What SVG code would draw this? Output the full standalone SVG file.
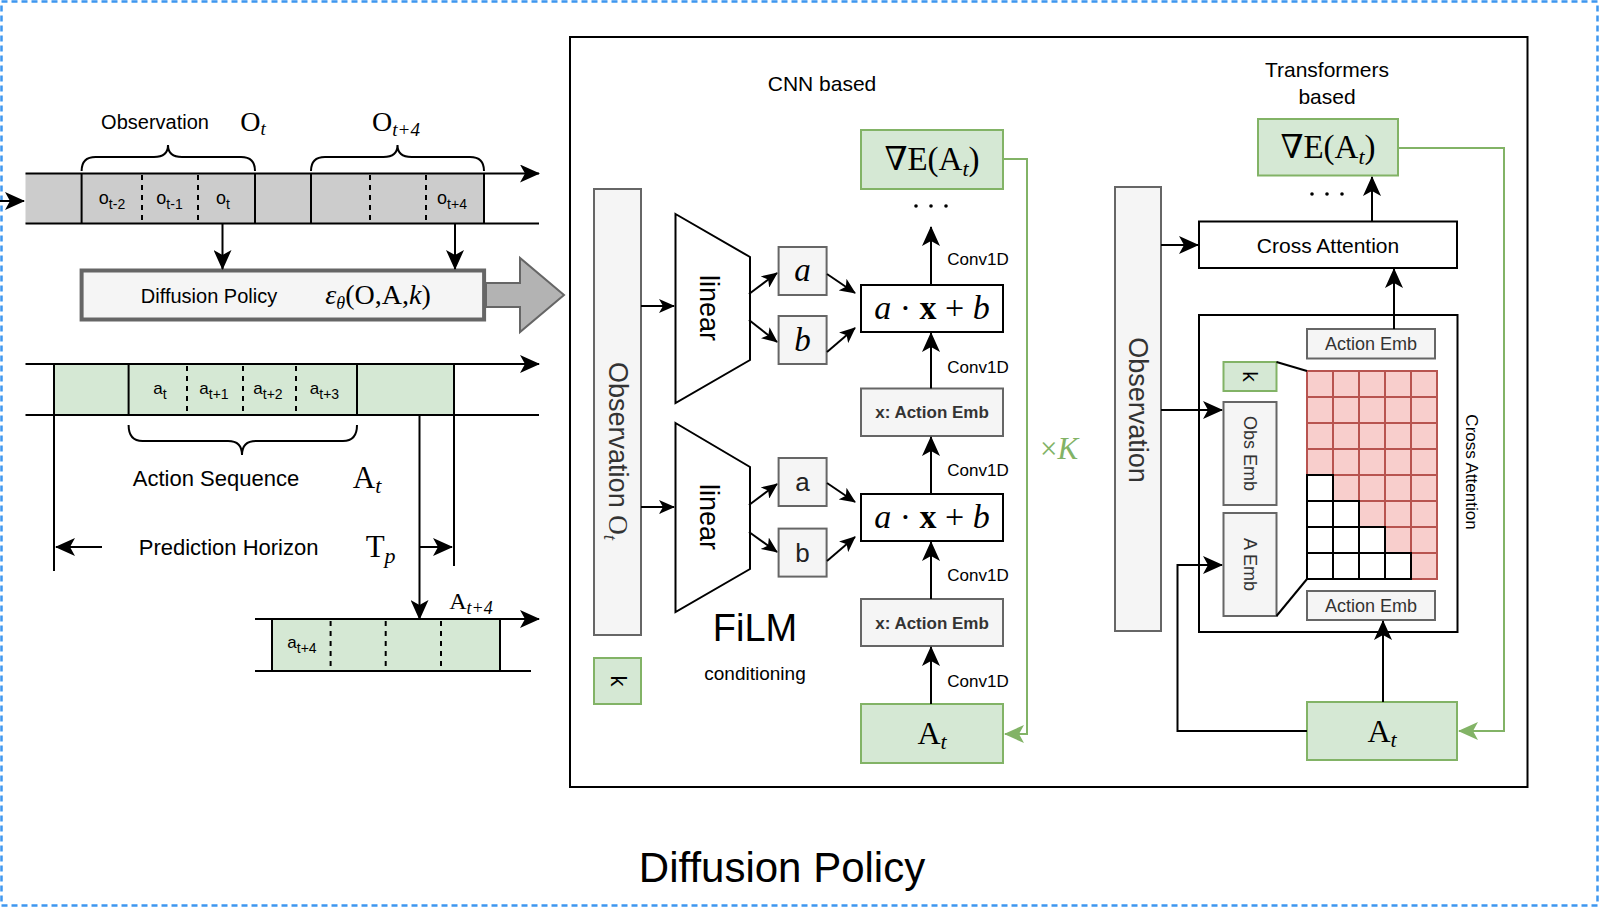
<svg xmlns="http://www.w3.org/2000/svg" width="1600" height="908" viewBox="0 0 1600 908">
<defs>
<style>
.s{font-family:"Liberation Sans",Arial,sans-serif;fill:#000}
.m{font-family:"Liberation Serif","DejaVu Serif",serif;fill:#000}
.ln{stroke:#000;stroke-width:2;fill:none}
.dash{stroke:#000;stroke-width:2;stroke-dasharray:5 5;fill:none}
.gb{fill:#F5F5F5;stroke:#666;stroke-width:2}
.gr{fill:#D5E8D4;stroke:#82B366;stroke-width:2}
.wb{fill:#fff;stroke:#000;stroke-width:2}
.pk{fill:#F8CECC;stroke:#B85450;stroke-width:2}
.wc{fill:#fff;stroke:#000;stroke-width:2}
.gl{stroke:#82B366;stroke-width:2;fill:none}
</style>
<marker id="ah" viewBox="0 0 16 14" markerWidth="16" markerHeight="14" refX="15" refY="7" orient="auto" markerUnits="userSpaceOnUse"><path d="M0,0 L16,7 L0,14 L4,7 Z" fill="#000"/></marker>
<marker id="ahL" viewBox="0 0 20 18" markerWidth="20" markerHeight="18" refX="19" refY="9" orient="auto" markerUnits="userSpaceOnUse"><path d="M0,0 L20,9 L0,18 L5,9 Z" fill="#000"/></marker>
<marker id="ahG" viewBox="0 0 20 18" markerWidth="20" markerHeight="18" refX="19" refY="9" orient="auto" markerUnits="userSpaceOnUse"><path d="M0,0 L20,9 L0,18 L5,9 Z" fill="#82B366"/></marker>
</defs>
<rect x="0" y="0" width="1600" height="908" fill="#fff"/>
<rect x="1.5" y="1.5" width="1596" height="904" fill="none" stroke="#3E97F0" stroke-width="2.5" stroke-dasharray="6 4"/>

<!-- Left: observation timeline -->
<g id="obs-timeline">
<rect x="25.5" y="173.5" width="458.5" height="50" fill="#CCCCCC"/>
<line x1="25.5" y1="173.5" x2="539" y2="173.5" class="ln" marker-end="url(#ahL)"/>
<line x1="25.5" y1="223.5" x2="539" y2="223.5" class="ln"/>
<line x1="81.6" y1="173.5" x2="81.6" y2="223.5" class="ln"/>
<line x1="255" y1="173.5" x2="255" y2="223.5" class="ln"/>
<line x1="311" y1="173.5" x2="311" y2="223.5" class="ln"/>
<line x1="484" y1="173.5" x2="484" y2="223.5" class="ln"/>
<line x1="142" y1="175" x2="142" y2="222" class="dash"/>
<line x1="198" y1="175" x2="198" y2="222" class="dash"/>
<line x1="370" y1="175" x2="370" y2="222" class="dash"/>
<line x1="426" y1="175" x2="426" y2="222" class="dash"/>
<text class="s" x="112" y="204" font-size="18" text-anchor="middle">o<tspan dy="5" font-size="14">t-2</tspan></text>
<text class="s" x="169.5" y="204" font-size="18" text-anchor="middle">o<tspan dy="5" font-size="14">t-1</tspan></text>
<text class="s" x="223" y="204" font-size="18" text-anchor="middle">o<tspan dy="5" font-size="14">t</tspan></text>
<text class="s" x="452" y="204" font-size="18" text-anchor="middle">o<tspan dy="5" font-size="14">t+4</tspan></text>
<path d="M81.6,171 Q81.6,157 95.6,157 L154,157 Q168,157 168,145 Q168,157 182,157 L241,157 Q255,157 255,171" class="ln"/>
<path d="M311,171 Q311,157 325,157 L383.5,157 Q397.5,157 397.5,145 Q397.5,157 411.5,157 L470,157 Q484,157 484,171" class="ln"/>
<text class="s" x="155" y="129" font-size="20" text-anchor="middle">Observation</text>
<text class="m" x="253" y="131" font-size="28" text-anchor="middle">O<tspan dy="4" font-size="19" font-style="italic">t</tspan></text>
<text class="m" x="396" y="131" font-size="28" text-anchor="middle">O<tspan dy="5" font-size="19" font-style="italic">t+4</tspan></text>
</g>

<g id="diffusion-policy">
<rect x="81.6" y="270.5" width="402.5" height="49" fill="#F5F5F5" stroke="#666" stroke-width="4"/>
<text class="s" x="209" y="303" font-size="20" text-anchor="middle">Diffusion Policy</text>
<text class="m" x="378" y="304" font-size="28" text-anchor="middle"><tspan font-style="italic">ε</tspan><tspan dy="5" font-size="18" font-style="italic">θ</tspan><tspan dy="-5">(O,A,</tspan><tspan font-style="italic">k</tspan>)</text>
<path d="M486,283 L520,283 L520,258 L564,295 L520,332 L520,307 L486,307 Z" fill="#B3B3B3" stroke="#666" stroke-width="2"/>
</g>

<!-- Action timeline -->
<g id="action-timeline">
<rect x="54" y="364" width="400" height="51" fill="#D5E8D4"/>
<line x1="25.5" y1="364" x2="539" y2="364" class="ln" marker-end="url(#ahL)"/>
<line x1="25.5" y1="415" x2="539" y2="415" class="ln"/>
<line x1="54" y1="364" x2="54" y2="571" class="ln"/>
<line x1="128.6" y1="364" x2="128.6" y2="415" class="ln"/>
<line x1="357" y1="364" x2="357" y2="415" class="ln"/>
<line x1="454" y1="364" x2="454" y2="566" class="ln"/>
<line x1="187" y1="366" x2="187" y2="413" class="dash"/>
<line x1="243" y1="366" x2="243" y2="413" class="dash"/>
<line x1="296" y1="366" x2="296" y2="413" class="dash"/>
<text class="s" x="160" y="394" font-size="17" text-anchor="middle">a<tspan dy="5" font-size="14">t</tspan></text>
<text class="s" x="214" y="394" font-size="17" text-anchor="middle">a<tspan dy="5" font-size="14">t+1</tspan></text>
<text class="s" x="268" y="394" font-size="17" text-anchor="middle">a<tspan dy="5" font-size="14">t+2</tspan></text>
<text class="s" x="324.5" y="394" font-size="17" text-anchor="middle">a<tspan dy="5" font-size="14">t+3</tspan></text>
<path d="M128.6,425 Q128.6,441 142.6,441 L228,441 Q242,441 242,455 Q242,441 256,441 L343,441 Q357,441 357,425" class="ln"/>
<text class="s" x="216" y="486" font-size="22" text-anchor="middle">Action Sequence</text>
<text class="m" x="367" y="488" font-size="31" text-anchor="middle">A<tspan dy="5" font-size="22" font-style="italic">t</tspan></text>
<line x1="102" y1="547" x2="56" y2="547" class="ln" marker-end="url(#ahL)"/>
<text class="s" x="228.6" y="555" font-size="22" text-anchor="middle">Prediction Horizon</text>
<text class="m" x="380.6" y="557" font-size="31" text-anchor="middle">T<tspan dy="6" font-size="22" font-style="italic">p</tspan></text>
<line x1="420" y1="547" x2="452" y2="547" class="ln" marker-end="url(#ahL)"/>
</g>

<g id="action-next">
<rect x="272" y="619" width="228" height="52" fill="#D5E8D4"/>
<line x1="255" y1="619" x2="539" y2="619" class="ln" marker-end="url(#ahL)"/>
<line x1="255" y1="671" x2="531" y2="671" class="ln"/>
<line x1="272" y1="619" x2="272" y2="671" class="ln"/>
<line x1="500" y1="619" x2="500" y2="671" class="ln"/>
<line x1="330.6" y1="621" x2="330.6" y2="669" class="dash"/>
<line x1="385.7" y1="621" x2="385.7" y2="669" class="dash"/>
<line x1="441" y1="621" x2="441" y2="669" class="dash"/>
<text class="s" x="302" y="648" font-size="17" text-anchor="middle">a<tspan dy="5" font-size="14">t+4</tspan></text>
<text class="m" x="471" y="609" font-size="24" text-anchor="middle">A<tspan dy="5" font-size="18" font-style="italic">t+4</tspan></text>
</g>

<!-- Main box -->
<rect id="main-box" x="570" y="37" width="957.5" height="750" fill="#fff" stroke="#000" stroke-width="2"/>

<!-- CNN based -->
<text class="s" x="822" y="91" font-size="21" text-anchor="middle">CNN based</text>
<g id="cnn-obs">
<rect x="594" y="189" width="47" height="446" class="gb"/>
<text class="s" transform="translate(617.5,451) rotate(90)" x="0" y="9" font-size="27" text-anchor="middle" style="fill:#333">Observation  <tspan class="m" style="fill:#333">O</tspan><tspan class="m" dy="5" font-size="19" font-style="italic" style="fill:#333">t</tspan></text>
</g>
<g id="cnn-k">
<rect x="594" y="658" width="47" height="46" class="gr"/>
<text class="s" transform="translate(617.5,681) rotate(90)" x="0" y="7" font-size="22" text-anchor="middle">k</text>
</g>
<g id="linear1">
<polygon points="675.5,214 750,257 750,360 675.5,403" class="wb"/>
<text class="s" transform="translate(708,308) rotate(90)" x="0" y="8" font-size="27" text-anchor="middle">linear</text>
</g>
<g id="linear2">
<polygon points="675.5,423 750,467 750,569 675.5,612" class="wb"/>
<text class="s" transform="translate(708,517) rotate(90)" x="0" y="8" font-size="27" text-anchor="middle">linear</text>
</g>
<g id="a1"><rect x="778.6" y="247" width="48" height="48" class="gb"/><text class="m" x="802.6" y="281" font-size="33" font-style="italic" text-anchor="middle">a</text></g>
<g id="b1"><rect x="778.6" y="316" width="48" height="48" class="gb"/><text class="m" x="802.6" y="351" font-size="33" font-style="italic" text-anchor="middle">b</text></g>
<g id="a2"><rect x="778.6" y="458" width="48" height="48" class="gb"/><text class="s" x="802.6" y="491" font-size="26" text-anchor="middle" style="fill:#222">a</text></g>
<g id="b2"><rect x="778.6" y="528.6" width="48" height="48" class="gb"/><text class="s" x="802.6" y="562" font-size="26" text-anchor="middle" style="fill:#222">b</text></g>
<g id="film1"><rect x="861" y="285" width="142" height="47" class="wb"/><text class="m" x="932" y="319" font-size="34" text-anchor="middle"><tspan font-style="italic">a</tspan> · <tspan font-weight="bold">x</tspan> + <tspan font-style="italic">b</tspan></text></g>
<g id="film2"><rect x="861" y="494" width="142" height="47" class="wb"/><text class="m" x="932" y="528" font-size="34" text-anchor="middle"><tspan font-style="italic">a</tspan> · <tspan font-weight="bold">x</tspan> + <tspan font-style="italic">b</tspan></text></g>
<g id="emb1"><rect x="861" y="388.5" width="142" height="47.5" class="gb"/><text class="s" x="932" y="418" font-size="17" font-weight="bold" text-anchor="middle" style="fill:#333">x: Action Emb</text></g>
<g id="emb2"><rect x="861" y="599" width="142" height="47" class="gb"/><text class="s" x="932" y="628.5" font-size="17" font-weight="bold" text-anchor="middle" style="fill:#333">x: Action Emb</text></g>
<g id="cnn-At"><rect x="861" y="704" width="142" height="59" class="gr"/><text class="m" x="932" y="744" font-size="32" text-anchor="middle">A<tspan dy="5" font-size="22" font-style="italic">t</tspan></text></g>
<g id="cnn-grad"><rect x="861" y="130" width="142" height="59" class="gr"/><text class="m" x="932" y="170" font-size="33" text-anchor="middle">∇E(A<tspan dy="6" font-size="22" font-style="italic">t</tspan><tspan dy="-6">)</tspan></text></g>
<g id="cnn-dots" fill="#000"><circle cx="916" cy="206" r="1.8"/><circle cx="931" cy="206" r="1.8"/><circle cx="946" cy="206" r="1.8"/></g>
<g id="cnn-labels">
<text class="s" x="978" y="265" font-size="17" text-anchor="middle">Conv1D</text>
<text class="s" x="978" y="373" font-size="17" text-anchor="middle">Conv1D</text>
<text class="s" x="978" y="476" font-size="17" text-anchor="middle">Conv1D</text>
<text class="s" x="978" y="581" font-size="17" text-anchor="middle">Conv1D</text>
<text class="s" x="978" y="687" font-size="17" text-anchor="middle">Conv1D</text>
</g>
<text class="s" x="755" y="641" font-size="38" text-anchor="middle">FiLM</text>
<text class="s" x="755" y="680" font-size="19" text-anchor="middle">conditioning</text>
<text class="m" x="1059" y="459" font-size="31" text-anchor="middle" style="fill:#82B366">×<tspan font-style="italic" style="fill:#82B366">K</tspan></text>

<!-- Transformers based -->
<text class="s" x="1327" y="77" font-size="21" text-anchor="middle">Transformers</text>
<text class="s" x="1327" y="104" font-size="21" text-anchor="middle">based</text>
<g id="tf-grad"><rect x="1258" y="119" width="140" height="56.5" class="gr"/><text class="m" x="1328" y="158" font-size="33" text-anchor="middle">∇E(A<tspan dy="6" font-size="22" font-style="italic">t</tspan><tspan dy="-6">)</tspan></text></g>
<g id="tf-dots" fill="#000"><circle cx="1312" cy="194" r="1.8"/><circle cx="1327" cy="194" r="1.8"/><circle cx="1342" cy="194" r="1.8"/></g>
<g id="tf-cross"><rect x="1199" y="221.5" width="258" height="46.5" class="wb"/><text class="s" x="1328" y="252.5" font-size="21" text-anchor="middle">Cross Attention</text></g>
<g id="tf-obs">
<rect x="1115" y="187" width="46" height="444" class="gb"/>
<text class="s" transform="translate(1138,410) rotate(90)" x="0" y="9" font-size="27" text-anchor="middle" style="fill:#333">Observation</text>
</g>
<g id="tf-inner">
<rect x="1199" y="315" width="258.5" height="317" fill="none" stroke="#000" stroke-width="2"/>
<text class="s" transform="translate(1472,472) rotate(90)" x="0" y="6" font-size="17" text-anchor="middle">Cross Attention</text>
</g>
<g id="tf-emb-top"><rect x="1307" y="329" width="128" height="29.5" class="gb"/><text class="s" x="1371" y="350" font-size="18" text-anchor="middle" style="fill:#333">Action Emb</text></g>
<g id="tf-emb-bot"><rect x="1307" y="591" width="128" height="29" class="gb"/><text class="s" x="1371" y="612" font-size="18" text-anchor="middle" style="fill:#333">Action Emb</text></g>
<g id="tf-k"><rect x="1223.5" y="362" width="53" height="29" class="gr"/><text class="s" transform="translate(1250,376.5) rotate(90)" x="0" y="7" font-size="21" text-anchor="middle">k</text></g>
<g id="tf-obsemb"><rect x="1223.5" y="402" width="53" height="103" class="gb"/><text class="s" transform="translate(1250,453.5) rotate(90)" x="0" y="6" font-size="18" text-anchor="middle" style="fill:#333">Obs Emb</text></g>
<g id="tf-aemb"><rect x="1223.5" y="513" width="53" height="103" class="gb"/><text class="s" transform="translate(1250,564.5) rotate(90)" x="0" y="6" font-size="18" text-anchor="middle" style="fill:#333">A Emb</text></g>
<g id="tf-grid">
<g class="pk">
<rect x="1307" y="371" width="26" height="26"/><rect x="1333" y="371" width="26" height="26"/><rect x="1359" y="371" width="26" height="26"/><rect x="1385" y="371" width="26" height="26"/><rect x="1411" y="371" width="26" height="26"/>
<rect x="1307" y="397" width="26" height="26"/><rect x="1333" y="397" width="26" height="26"/><rect x="1359" y="397" width="26" height="26"/><rect x="1385" y="397" width="26" height="26"/><rect x="1411" y="397" width="26" height="26"/>
<rect x="1307" y="423" width="26" height="26"/><rect x="1333" y="423" width="26" height="26"/><rect x="1359" y="423" width="26" height="26"/><rect x="1385" y="423" width="26" height="26"/><rect x="1411" y="423" width="26" height="26"/>
<rect x="1307" y="449" width="26" height="26"/><rect x="1333" y="449" width="26" height="26"/><rect x="1359" y="449" width="26" height="26"/><rect x="1385" y="449" width="26" height="26"/><rect x="1411" y="449" width="26" height="26"/>
<rect x="1333" y="475" width="26" height="26"/><rect x="1359" y="475" width="26" height="26"/><rect x="1385" y="475" width="26" height="26"/><rect x="1411" y="475" width="26" height="26"/>
<rect x="1359" y="501" width="26" height="26"/><rect x="1385" y="501" width="26" height="26"/><rect x="1411" y="501" width="26" height="26"/>
<rect x="1385" y="527" width="26" height="26"/><rect x="1411" y="527" width="26" height="26"/>
<rect x="1411" y="553" width="26" height="26"/>
</g>
<g class="wc">
<rect x="1307" y="475" width="26" height="26"/>
<rect x="1307" y="501" width="26" height="26"/><rect x="1333" y="501" width="26" height="26"/>
<rect x="1307" y="527" width="26" height="26"/><rect x="1333" y="527" width="26" height="26"/><rect x="1359" y="527" width="26" height="26"/>
<rect x="1307" y="553" width="26" height="26"/><rect x="1333" y="553" width="26" height="26"/><rect x="1359" y="553" width="26" height="26"/><rect x="1385" y="553" width="26" height="26"/>
</g>
<line x1="1276.5" y1="362" x2="1307" y2="371" class="ln"/>
<line x1="1276.5" y1="616" x2="1307" y2="579" class="ln"/>
</g>
<g id="tf-At"><rect x="1307" y="702" width="150" height="58" class="gr"/><text class="m" x="1382" y="742" font-size="32" text-anchor="middle">A<tspan dy="5" font-size="22" font-style="italic">t</tspan></text></g>

<!-- Connectors -->
<g id="connectors">
<line x1="0" y1="201" x2="24" y2="201" class="ln" marker-end="url(#ahL)"/>
<line x1="222.5" y1="224" x2="222.5" y2="269" class="ln" marker-end="url(#ahL)"/>
<line x1="455" y1="224" x2="455" y2="269" class="ln" marker-end="url(#ahL)"/>
<line x1="419.5" y1="415" x2="419.5" y2="619" class="ln" marker-end="url(#ahL)"/>
<line x1="641" y1="306" x2="674" y2="306" class="ln" marker-end="url(#ah)"/>
<line x1="641" y1="507" x2="674" y2="507" class="ln" marker-end="url(#ah)"/>
<line x1="749" y1="294" x2="777" y2="273" class="ln" marker-end="url(#ah)"/>
<line x1="749" y1="320" x2="777" y2="342" class="ln" marker-end="url(#ah)"/>
<line x1="827" y1="274" x2="855" y2="293" class="ln" marker-end="url(#ah)"/>
<line x1="827" y1="352" x2="855" y2="328" class="ln" marker-end="url(#ah)"/>
<line x1="749" y1="505" x2="777" y2="484" class="ln" marker-end="url(#ah)"/>
<line x1="749" y1="532" x2="777" y2="552" class="ln" marker-end="url(#ah)"/>
<line x1="827" y1="483" x2="855" y2="502" class="ln" marker-end="url(#ah)"/>
<line x1="827" y1="561" x2="855" y2="537" class="ln" marker-end="url(#ah)"/>
<line x1="931" y1="704" x2="931" y2="647" class="ln" marker-end="url(#ahL)"/>
<line x1="931" y1="599" x2="931" y2="542" class="ln" marker-end="url(#ahL)"/>
<line x1="931" y1="494" x2="931" y2="437" class="ln" marker-end="url(#ahL)"/>
<line x1="931" y1="388.5" x2="931" y2="333" class="ln" marker-end="url(#ahL)"/>
<line x1="931" y1="285" x2="931" y2="227" class="ln" marker-end="url(#ahL)"/>
<polyline points="1003,159 1027,159 1027,734 1005,734" class="gl" marker-end="url(#ahG)"/>
<line x1="1161" y1="245" x2="1198" y2="245" class="ln" marker-end="url(#ahL)"/>
<line x1="1394" y1="329" x2="1394" y2="269" class="ln" marker-end="url(#ahL)"/>
<line x1="1372" y1="221.5" x2="1372" y2="177" class="ln" marker-end="url(#ahL)"/>
<line x1="1383" y1="702" x2="1383" y2="621" class="ln" marker-end="url(#ahL)"/>
<line x1="1161" y1="410" x2="1222" y2="410" class="ln" marker-end="url(#ahL)"/>
<polyline points="1307,731 1177.5,731 1177.5,565 1222,565" class="ln" marker-end="url(#ahL)"/>
<polyline points="1398,148 1504,148 1504,731 1459,731" class="gl" marker-end="url(#ahG)"/>
</g>

<text class="s" x="782" y="882" font-size="42" text-anchor="middle">Diffusion Policy</text>
</svg>
